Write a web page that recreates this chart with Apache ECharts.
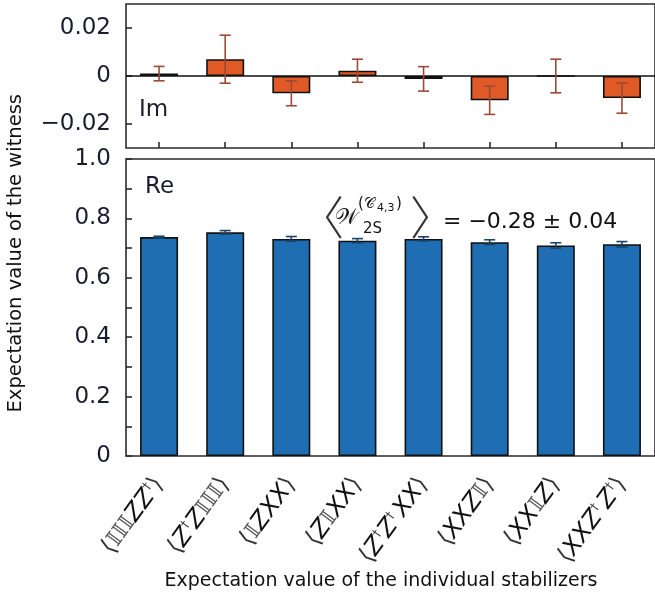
<!DOCTYPE html>
<html>
<head>
<meta charset="utf-8">
<script src="https://cdn.jsdelivr.net/npm/echarts@6.0.0/dist/echarts.min.js"></script>
<style>
  html, body { margin: 0; padding: 0; background: #fff; }
  #chart { width: 655px; height: 598px; }
</style>
</head>
<body>
<div id="chart"></div>
<script>
// Stabilizer operators (x categories)
const stabilizers = ['⟨𝕀𝕀𝕀ZZ†⟩', '⟨Z†Z𝕀𝕀𝕀⟩', '⟨𝕀ZXX⟩', '⟨Z𝕀XX⟩', '⟨Z†Z† XX⟩', '⟨XXZ𝕀⟩', '⟨XX𝕀Z⟩', '⟨XXZ† Z†⟩'];

// Imaginary parts of the stabilizer expectation values and their errors
const imValues = [0.001, 0.007, -0.0072, 0.0022, -0.0012, -0.0101, 0, -0.0092];
const imErrors = [0.003, 0.010, 0.0052, 0.0048, 0.0051, 0.0059, 0.007, 0.0063];

// Real parts of the stabilizer expectation values and their errors
const reValues = [0.737, 0.753, 0.731, 0.725, 0.731, 0.720, 0.709, 0.713];
const reErrors = [0.003, 0.006, 0.008, 0.007, 0.007, 0.008, 0.009, 0.009];

// Tick labels
const imTickValues = [-0.02, 0, 0.02];

const FONT = '"DejaVu Sans", "Liberation Sans", sans-serif';
const TEXT = '#1a1c30';
const FRAME = '#2b2b2b';

function fmtTick(v) {
  if (Math.abs(v) < 1e-9) return '0';
  return v < 0 ? '\u2212' + Math.abs(v).toString() : v.toString();
}

// Turn an operator string into rich-text tokens (italic Paulis, superscript daggers)
function richLabel(s) {
  const parts = [];
  for (const ch of Array.from(s)) {
    if (ch === '⟨' || ch === '⟩') parts.push('{br|' + ch + '}');
    else if (ch === '†') parts.push('{dag|†}');
    else if (ch === '𝕀') parts.push('{id|𝕀}');
    else if (ch === ' ') parts.push('{sp| }');
    else parts.push('{op|' + ch + '}');
  }
  return parts.join('');
}

function errorBarSeries(name, xIdx, yIdx, values, errors, color) {
  return {
    name: name,
    type: 'custom',
    xAxisIndex: xIdx,
    yAxisIndex: yIdx,
    z: 5,
    data: values.map((v, i) => [i, v, errors[i]]),
    encode: { x: 0, y: 1 },
    renderItem: function (params, api) {
      const i = api.value(0), v = api.value(1), e = api.value(2);
      const hi = api.coord([i, v + e]);
      const lo = api.coord([i, v - e]);
      const cap = 5.5;
      const style = { stroke: color, lineWidth: 1.6, fill: null };
      return {
        type: 'group',
        children: [
          { type: 'line', shape: { x1: hi[0], y1: hi[1], x2: lo[0], y2: lo[1] }, style: style },
          { type: 'line', shape: { x1: hi[0] - cap, y1: hi[1], x2: hi[0] + cap, y2: hi[1] }, style: style },
          { type: 'line', shape: { x1: lo[0] - cap, y1: lo[1], x2: lo[0] + cap, y2: lo[1] }, style: style }
        ]
      };
    }
  };
}

const chart = echarts.init(document.getElementById('chart'), null, { renderer: 'canvas' });

const BRACKET_FONT = '300 46px "Noto Sans CJK SC"';

const option = {
  animation: false,
  backgroundColor: '#fff',
  textStyle: { fontFamily: FONT },
  grid: [
    { left: 126, top: 4, width: 534.5, height: 144, show: true, borderColor: FRAME, borderWidth: 1.6, backgroundColor: 'transparent' },
    { left: 126, top: 159, width: 534.5, height: 297, show: true, borderColor: FRAME, borderWidth: 1.6, backgroundColor: 'transparent' }
  ],
  xAxis: [
    {
      type: 'category', gridIndex: 0, data: stabilizers,
      axisLine: { show: false, onZero: false },
      axisTick: { show: true, inside: true, length: 6, interval: 0, alignWithLabel: true, lineStyle: { color: FRAME, width: 1.6 } },
      axisLabel: { show: false, interval: 0 },
      splitLine: { show: false }
    },
    {
      type: 'category', gridIndex: 1, data: stabilizers,
      axisLine: { show: false },
      axisTick: { show: false },
      axisLabel: {
        show: true, interval: 0, rotate: 54, margin: 24,
        formatter: richLabel,
        color: '#111',
        rich: {
          op: { fontFamily: FONT, fontStyle: 'italic', fontSize: 24, color: '#111' },
          id: { fontFamily: '"DejaVu Serif", serif', fontSize: 22, color: '#555' },
          br: { fontFamily: FONT, fontSize: 24, color: '#333' },
          dag: { fontFamily: FONT, fontSize: 12, color: '#333', verticalAlign: 'top', padding: [0, 0, 12, 0] },
          sp: { fontSize: 10 }
        }
      },
      splitLine: { show: false }
    }
  ],
  yAxis: [
    {
      type: 'value', gridIndex: 0, min: -0.03, max: 0.03,
      axisLine: { show: false },
      axisTick: { show: true, inside: true, length: 6, customValues: imTickValues, lineStyle: { color: FRAME, width: 1.6 } },
      axisLabel: { show: true, customValues: imTickValues, formatter: fmtTick, fontFamily: FONT, fontSize: 23, color: TEXT, margin: 15 },
      splitLine: { show: false }
    },
    {
      type: 'value', gridIndex: 1, min: 0, max: 1.0, interval: 0.1,
      axisLine: { show: false },
      axisTick: { show: true, inside: true, length: 6, lineStyle: { color: FRAME, width: 1.6 } },
      axisLabel: {
        show: true, fontFamily: FONT, fontSize: 23, color: TEXT, margin: 15,
        formatter: function (v) {
          const k = Math.round(v * 10);
          if (k % 2 !== 0) return '';
          return k === 0 ? '0' : (k / 10).toFixed(1);
        }
      },
      splitLine: { show: false }
    }
  ],
  series: [
    {
      name: 'Im',
      type: 'bar', xAxisIndex: 0, yAxisIndex: 0,
      data: imValues, barWidth: 38,
      itemStyle: { color: '#df5a26', borderColor: '#111', borderWidth: 1.6 },
      markLine: {
        silent: true, symbol: 'none', label: { show: false },
        lineStyle: { color: '#111', width: 1.6, type: 'solid' },
        data: [{ yAxis: 0 }]
      }
    },
    errorBarSeries('Im error', 0, 0, imValues, imErrors, '#9a4a36'),
    {
      name: 'Re',
      type: 'bar', xAxisIndex: 1, yAxisIndex: 1,
      data: reValues, barWidth: 38,
      itemStyle: { color: '#1f6db2', borderColor: '#111', borderWidth: 1.6 }
    },
    errorBarSeries('Re error', 1, 1, reValues, reErrors, '#1b4468')
  ],
  graphic: [
    { type: 'text', left: 6, top: 94, rotation: Math.PI / 2, originX: 0, originY: 0,
      style: { text: 'Expectation value of the witness', font: '19.5px ' + FONT, fill: '#111' } },
    { type: 'text', style: { x: 381, y: 581, text: 'Expectation value of the individual stabilizers', font: '19px ' + FONT, fill: '#111', textAlign: 'center', textVerticalAlign: 'middle' } },
    { type: 'text', style: { x: 139, y: 110, text: 'Im', font: '23px ' + FONT, fill: TEXT, textAlign: 'left', textVerticalAlign: 'middle' } },
    { type: 'text', style: { x: 145, y: 187, text: 'Re', font: '23px ' + FONT, fill: TEXT, textAlign: 'left', textVerticalAlign: 'middle' } },
    { type: 'text', style: { x: 344, y: 217, text: '〈', font: BRACKET_FONT, fill: '#333', textAlign: 'right', textVerticalAlign: 'middle' } },
    { type: 'text', style: { x: 346, y: 218, text: '𝒲', font: '22px ' + FONT, fill: '#111', textAlign: 'center', textVerticalAlign: 'middle' } },
    { type: 'text', style: { x: 358, y: 204, text: '(𝒞', font: '15px ' + FONT, fill: '#111', textAlign: 'left', textVerticalAlign: 'middle' } },
    { type: 'text', style: { x: 377, y: 208, text: '4,3', font: '11px ' + FONT, fill: '#111', textAlign: 'left', textVerticalAlign: 'middle' } },
    { type: 'text', style: { x: 396, y: 204, text: ')', font: '15px ' + FONT, fill: '#111', textAlign: 'left', textVerticalAlign: 'middle' } },
    { type: 'text', style: { x: 363, y: 229, text: '2S', font: '15px ' + FONT, fill: '#111', textAlign: 'left', textVerticalAlign: 'middle' } },
    { type: 'text', style: { x: 410, y: 217, text: '〉', font: BRACKET_FONT, fill: '#333', textAlign: 'left', textVerticalAlign: 'middle' } },
    { type: 'text', style: { x: 443, y: 222, text: '= \u22120.28 \u00b1 0.04', font: '22px ' + FONT, fill: '#111', textAlign: 'left', textVerticalAlign: 'middle' } }
  ]
};

chart.setOption(option);
</script>
</body>
</html>
